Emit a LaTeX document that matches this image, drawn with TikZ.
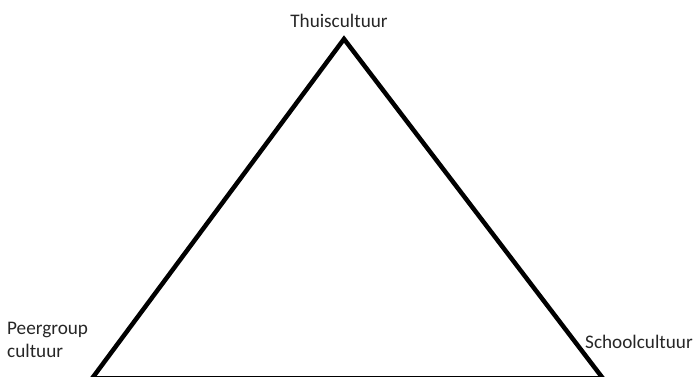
\documentclass[tikz,border=0pt]{standalone}
\usepackage{fontspec}
\setmainfont{Carlito}
\begin{document}
\begin{tikzpicture}[x=1pt,y=1pt,
  lbl/.style={inner sep=0pt, font=\fontsize{19.2}{23}\selectfont, text=black!85, align=left},
  edge/.style={line width=4.5pt, line join=miter}]
\useasboundingbox (0,0) rectangle (697,377);
\clip (0,0) rectangle (697,377);
\coordinate (top) at (344,338);
\coordinate (bl) at (92,-1.5);
\coordinate (br) at (603,-1.5);
\draw[edge] (top) -- (bl) -- (br) -- cycle;
\node[lbl] (home) at (339,356) {Thuiscultuur};
\node[lbl, anchor=west] (peer) at (7,37) {Peergroup\\cultuur};
\node[lbl, anchor=west] (school) at (585,35) {Schoolcultuur};
\end{tikzpicture}
\end{document}
